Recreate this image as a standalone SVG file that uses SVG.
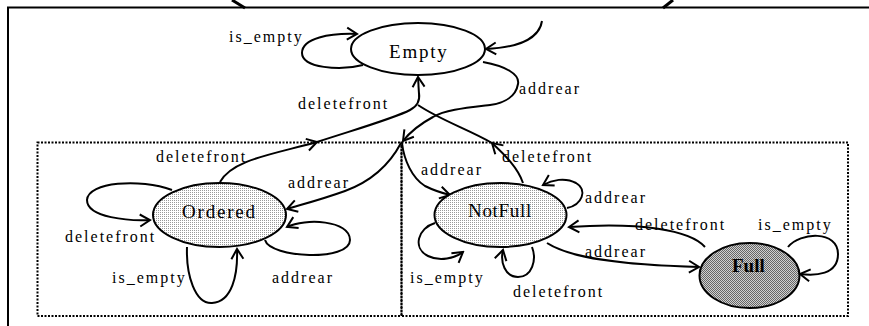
<svg xmlns="http://www.w3.org/2000/svg" width="869" height="326" viewBox="0 0 869 326">
<style>
.lbl{font-family:"Liberation Serif","Times New Roman",serif;font-size:16px;letter-spacing:2px;fill:#000}
.nt{font-family:"Liberation Serif","Times New Roman",serif;font-size:19px;fill:#000}
.edge{fill:none;stroke:#000;stroke-width:2}
.arr{marker-end:url(#ah)}
.node{stroke:#000;stroke-width:2}
.box{fill:none;stroke:#000;stroke-width:2;stroke-dasharray:2 1.5}
</style>
<defs>
<marker id="ah" viewBox="-12 -8 14 16" refX="0" refY="0" markerWidth="14" markerHeight="16" markerUnits="userSpaceOnUse" orient="auto">
<path d="M-10,-6 L0,0 L-10,6" fill="none" stroke="#000" stroke-width="2"/>
</marker>
<pattern id="lt" width="2" height="2" patternUnits="userSpaceOnUse">
<rect width="2" height="2" fill="#fff"/>
<rect width="1" height="1" fill="#999"/>
</pattern>
<pattern id="dk" width="2" height="2" patternUnits="userSpaceOnUse">
<rect width="2" height="2" fill="#d0d0d0"/>
<rect width="1" height="1" fill="#666"/>
<rect x="1" y="1" width="1" height="1" fill="#666"/>
</pattern>
</defs>
<g id="frame">
<path d="M8,326 V7.5 H869" fill="none" stroke="#000" stroke-width="2"/>
<path d="M232,0 L245,8" stroke="#000" stroke-width="3"/>
<path d="M673,0 L663,8" stroke="#000" stroke-width="3"/>
<rect class="box" x="37.5" y="142.5" width="364" height="173.5"/>
<rect class="box" x="401.5" y="142.5" width="446.5" height="173.5"/>
</g>
<g id="connectors">
<path class="edge arr" d="M363,65 C340,71 302,68 302,53 C302,38 330,33 357,34"/>
<path class="edge arr" d="M542,21 C540,35 525,47 486,49"/>
<path class="edge arr" d="M220,182 C232,160 270,155 317,142"/>
<path class="edge" d="M317,142 C360,128 395,118 410,110 C418,106 420,100 419,93"/>
<path class="edge arr" d="M419,94 L418,77"/>
<path class="edge arr" d="M523,183 C518,168 505,155 492,143"/>
<path class="edge" d="M492,143 C470,130 440,120 418,105"/>
<path class="edge arr" d="M483,62 C505,66 520,74 518,84 C516,96 505,103 490,105 C465,108 445,110 433,117 C420,124 410,132 403,141"/>
<path class="edge arr" d="M401,143 C392,160 375,180 345,191 C320,200 300,205 287,209"/>
<path class="edge arr" d="M402,143 C404,160 412,178 425,186 C433,190 442,193 450,195"/>
<path class="edge arr" d="M172,190 C140,178 88,182 87,200 C87,218 130,221 150,220"/>
<path class="edge arr" d="M187,247 C186,275 195,304 212,303 C232,302 238,275 237,249"/>
<path class="edge arr" d="M265,240 C270,258 350,262 350,240 C350,220 305,218 287,227"/>
<path class="edge arr" d="M567,208 C582,205 588,190 576,183 C565,177 552,180 543,185"/>
<path class="edge arr" d="M435,223 C418,228 412,248 428,256 C440,262 455,258 463,252"/>
<path class="edge arr" d="M532,247 C537,260 532,277 518,277 C505,277 500,262 503,250"/>
<path class="edge arr" d="M547,243 C570,258 620,265 699,267"/>
<path class="edge arr" d="M705,247 C690,230 640,222 569,227"/>
<path class="edge arr" d="M788,247 C800,232 838,230 838,254 C838,275 815,276 800,274"/>
<text class="lbl" x="229" y="42">is_empty</text>
<text class="lbl" x="298" y="109">deletefront</text>
<text class="lbl" x="519" y="94">addrear</text>
<text class="lbl" x="156" y="162">deletefront</text>
<text class="lbl" x="288" y="188">addrear</text>
<text class="lbl" x="65" y="242">deletefront</text>
<text class="lbl" x="112" y="283">is_empty</text>
<text class="lbl" x="272" y="283">addrear</text>
<text class="lbl" x="421" y="175">addrear</text>
<text class="lbl" x="502" y="162">deletefront</text>
<text class="lbl" x="585" y="203">addrear</text>
<text class="lbl" x="635" y="230">deletefront</text>
<text class="lbl" x="758" y="230">is_empty</text>
<text class="lbl" x="585" y="257">addrear</text>
<text class="lbl" x="410" y="283">is_empty</text>
<text class="lbl" x="513" y="297">deletefront</text>
</g>
<g id="Empty">
<ellipse class="node" cx="418" cy="49" rx="67" ry="26" fill="#fff"/>
<text class="nt" x="389" y="58" letter-spacing="1.8">Empty</text>
</g>
<g id="Ordered">
<ellipse class="node" cx="219.5" cy="215" rx="66.5" ry="32" fill="url(#lt)"/>
<text class="nt" x="182" y="218" letter-spacing="1.8">Ordered</text>
</g>
<g id="NotFull">
<ellipse class="node" cx="500.5" cy="215" rx="66" ry="32" fill="url(#lt)"/>
<text class="nt" x="468" y="217" letter-spacing="0.7">NotFull</text>
</g>
<g id="Full">
<ellipse class="node" cx="749.5" cy="275.5" rx="50" ry="32.5" fill="url(#dk)"/>
<text class="nt" x="732" y="272" font-weight="bold">Full</text>
</g>
</svg>
